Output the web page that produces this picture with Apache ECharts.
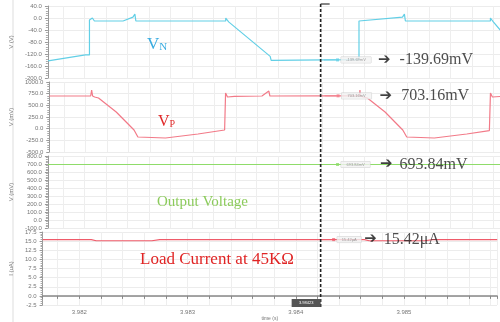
<!DOCTYPE html>
<html>
<head>
<meta charset="utf-8">
<script src="https://cdn.jsdelivr.net/npm/echarts@6/dist/echarts.min.js"></script>
<style>
  html, body { margin: 0; padding: 0; background: #fff; }
  #chart { width: 500px; height: 322px; }
</style>
</head>
<body>
<div id="chart"></div>
<script>
// time axis (s)
const T_MIN = 3.98166
const T_MAX = 3.98586
const CURSOR_T = 3.98423

// VN (mV)
const vnData = [
  [3.981661, -143], [3.982009, -123], [3.982046, -123], [3.982046, -7], [3.982073, 0],
  [3.982092, -10], [3.982358, -10], [3.982450, 3], [3.982468, 13], [3.982477, -10],
  [3.983312, -10], [3.983312, 0], [3.983339, -13], [3.983725, -128], [3.983734, -141],
  [3.984229, -139.69], [3.984550, -139], [3.984550, -10], [3.984954, 3], [3.984972, 13],
  [3.984981, -10], [3.985771, -10], [3.985771, 0], [3.985798, -13], [3.985862, -40]
]

// VP (mV)
const vpData = [
  [3.981661, 700], [3.982046, 700], [3.982055, 828], [3.982064, 700], [3.982083, 679],
  [3.982119, 657], [3.982284, 357], [3.982450, -29], [3.982486, -179], [3.982743, -200],
  [3.983046, -114], [3.983294, -29], [3.983303, 764], [3.983321, 679], [3.983385, 690],
  [3.983642, 700], [3.983706, 807], [3.983716, 700], [3.984229, 703.16], [3.984550, 703],
  [3.984555, 828], [3.984560, 700], [3.984587, 679], [3.984624, 657], [3.984789, 357],
  [3.984954, -29], [3.984991, -179], [3.985248, -200], [3.985550, -114], [3.985761, -40],
  [3.985771, 764], [3.985789, 679], [3.985862, 690]
]

// output voltage (mV)
const voutData = [[3.981661, 693.84], [3.983000, 693.84], [3.984229, 693.84], [3.985862, 693.84]]

// load current (uA)
const iloadData = [
  [3.981661, 15.42], [3.982110, 15.42], [3.982156, 15.1], [3.982670, 15.1], [3.982743, 15.42],
  [3.984229, 15.42], [3.984633, 15.42], [3.984679, 15.1], [3.985193, 15.1], [3.985266, 15.42],
  [3.985862, 15.42]
]

const cursorValues = [-139.69, 703.16, 693.84, 15.42]
const cursorTexts = ['-139.69mV', '703.16mV', '693.84mV', '15.42μA']
const cursorLabel = '3.98423'

const axisNames = ['V (V)', 'V (mV)', 'V (mV)', 'I (uA)']
const yMins = [-200, -500, -100, -2.5]
const yMaxs = [40, 1000, 800, 17.5]
const yIntervals = [40, 250, 100, 2.5]

const colors = ['#62cfe6', '#f27a88', '#8fdc6a', '#ef5b6a']
const grids = [
  { left: 42, right: 0, top: 6, height: 72 },
  { left: 42, right: 0, top: 82, height: 70 },
  { left: 42, right: 0, top: 156, height: 72 },
  { left: 42, right: 0, top: 232, height: 74 }
]
// label box widths / gaps per panel
const boxW = [26, 26, 25, 20]
const gap1 = [7, 8, 10, 3]
const gap2 = [9, 9, 7, 7]

const chart = echarts.init(document.getElementById('chart'), null, { renderer: 'canvas' })

const xAxes = grids.map((g, i) => {
  const bottom = i === 3
  return {
    type: 'value', gridIndex: i, min: T_MIN, max: T_MAX, splitNumber: 21,
    name: bottom ? 'time (s)' : '',
    nameLocation: 'middle', nameGap: 11,
    nameTextStyle: { fontSize: 5, color: '#777' },
    axisLine: { show: bottom, lineStyle: { color: '#888', width: 1.5 } },
    axisTick: { show: bottom, length: 3, lineStyle: { color: '#888' } },
    axisLabel: {
      show: bottom, fontSize: 6, color: '#777', margin: 4,
      formatter: v => {
        const k = Math.round(v * 1000)
        return Math.abs(v * 1000 - k) < 1e-6 ? (k / 1000).toFixed(3) : ''
      }
    },
    splitLine: { show: true, lineStyle: { color: '#eeeeee', width: 1 } }
  }
})

const yAxes = grids.map((g, i) => ({
  type: 'value', gridIndex: i,
  min: yMins[i], max: yMaxs[i], interval: yIntervals[i],
  name: axisNames[i], nameLocation: 'middle', nameGap: 25,
  nameTextStyle: { fontSize: 6, color: '#777' },
  axisLine: { show: true, lineStyle: { color: '#999' } },
  axisTick: { show: true, length: 3, lineStyle: { color: '#999' } },
  minorTick: { show: true, splitNumber: 5, length: 2, lineStyle: { color: '#aaa' } },
  axisLabel: { fontSize: 6, color: '#777', margin: 6, formatter: v => v.toFixed(1) },
  splitLine: { lineStyle: { color: '#ececec' } }
}))

const traces = [vnData, vpData, voutData, iloadData]

const lineSeries = traces.map((d, i) => ({
  type: 'line', xAxisIndex: i, yAxisIndex: i, data: d,
  symbol: 'none', animation: false, silent: true,
  lineStyle: { color: colors[i], width: 1.2 }
}))

const markerSeries = cursorValues.map((v, i) => ({
  type: 'scatter', xAxisIndex: i, yAxisIndex: i,
  data: [[CURSOR_T, v]], symbol: 'rect', symbolSize: 1,
  itemStyle: { color: colors[i] }, animation: false, silent: true, z: 10,
  label: {
    show: true, position: 'right', distance: 0,
    formatter: () => '{ln|}{sw|}{sp|}{box|' + cursorTexts[i] + '}{g1|}{arr|➔}{g2|}{val|' + cursorTexts[i] + '}',
    rich: {
      ln: { width: 11, height: 1, backgroundColor: colors[i] },
      sw: { width: 3, height: 3, backgroundColor: colors[i] },
      sp: { width: 2, height: 1 },
      box: {
        width: boxW[i], fontSize: 4, color: '#888', align: 'center',
        backgroundColor: '#f3f3f3', borderColor: '#cfcfcf', borderWidth: 0.5, padding: [1, 2]
      },
      g1: { width: gap1[i], height: 1 },
      arr: { fontFamily: 'DejaVu Sans', fontSize: 15, fontWeight: 'bold', color: '#111' },
      g2: { width: gap2[i], height: 1 },
      val: { fontFamily: 'Liberation Serif', fontSize: 16, color: '#222' }
    }
  }
}))

chart.setOption({
  backgroundColor: '#fff',
  animation: false,
  grid: grids,
  xAxis: xAxes,
  yAxis: yAxes,
  series: [...lineSeries, ...markerSeries]
})

const cx = chart.convertToPixel({ xAxisIndex: 3 }, CURSOR_T)

chart.setOption({
  graphic: [
    { type: 'line', shape: { x1: 13, y1: 0, x2: 13, y2: 322 }, style: { stroke: '#dddddd', lineWidth: 1 } },
    // panel titles
    {
      type: 'text', x: 147, y: 44,
      style: {
        text: '{v|V}{s|N}', verticalAlign: 'middle',
        rich: {
          v: { fontFamily: 'Liberation Serif', fontSize: 17, fill: '#3aace0', verticalAlign: 'bottom', lineHeight: 18 },
          s: { fontFamily: 'Liberation Serif', fontSize: 11, fill: '#3aace0', verticalAlign: 'bottom', lineHeight: 16 }
        }
      }
    },
    {
      type: 'text', x: 158, y: 121,
      style: {
        text: '{v|V}{s|P}', verticalAlign: 'middle',
        rich: {
          v: { fontFamily: 'Liberation Serif', fontSize: 16, fill: '#e02a2a', verticalAlign: 'bottom', lineHeight: 17 },
          s: { fontFamily: 'Liberation Serif', fontSize: 10, fill: '#e02a2a', verticalAlign: 'bottom', lineHeight: 15 }
        }
      }
    },
    {
      type: 'text', x: 157, y: 202,
      style: { text: 'Output Voltage', font: '15px "Liberation Serif"', fill: '#8ccb5c', verticalAlign: 'middle' }
    },
    {
      type: 'text', x: 140, y: 260,
      style: { text: 'Load Current at 45KΩ', font: '17px "Liberation Serif"', fill: '#e02424', verticalAlign: 'middle' }
    },
    // cursor
    {
      type: 'line', shape: { x1: cx, y1: 4, x2: cx, y2: 307 },
      style: { stroke: '#222', lineWidth: 1.6, lineDash: [3, 2] }, z: 20
    },
    { type: 'line', shape: { x1: cx, y1: 4, x2: cx + 9, y2: 4 }, style: { stroke: '#333', lineWidth: 1.2 }, z: 20 },
    { type: 'rect', shape: { x: cx - 29, y: 299, width: 29, height: 8 }, style: { fill: '#555' }, z: 21 },
    {
      type: 'text', x: cx - 14.5, y: 303, z: 22,
      style: { text: cursorLabel, font: '4px sans-serif', fill: '#fff', align: 'center', verticalAlign: 'middle' }
    }
  ]
})
</script>
</body>
</html>
